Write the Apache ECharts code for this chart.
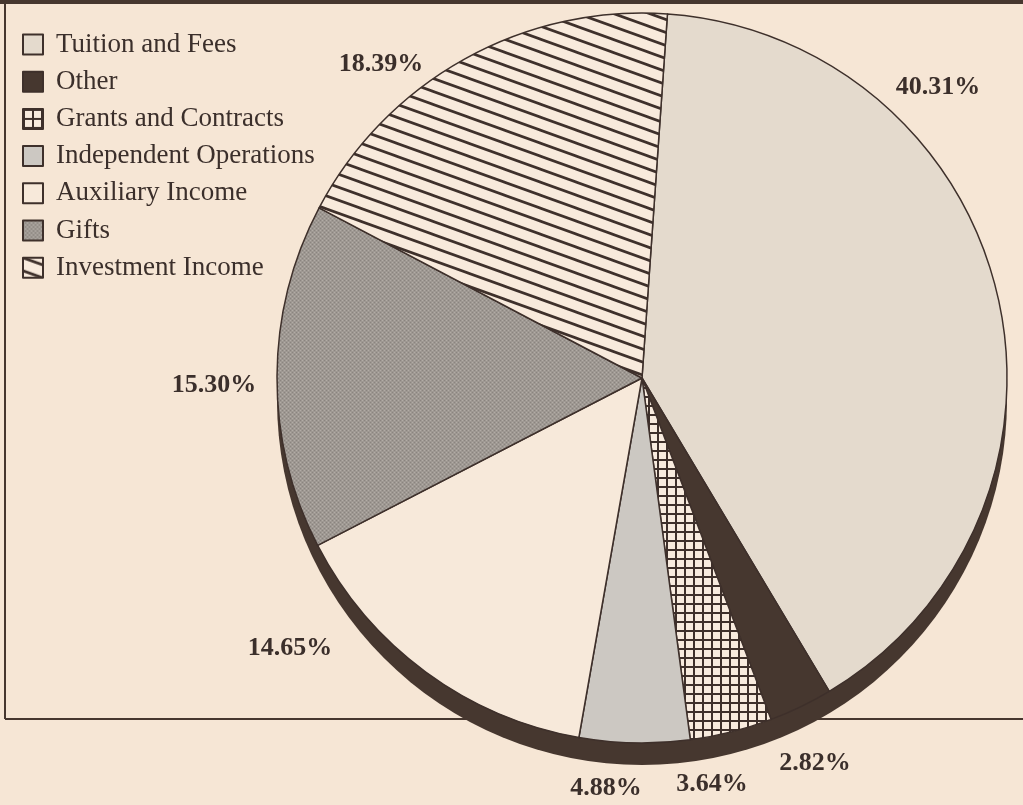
<!DOCTYPE html>
<html>
<head>
<meta charset="UTF-8"/>
<script src="https://cdn.jsdelivr.net/npm/echarts@6/dist/echarts.min.js"></script>
<style>
  html, body { margin: 0; padding: 0; background: #f6e6d5; }
  #c { width: 1023px; height: 805px; }
</style>
</head>
<body>
<div id="c"></div>
<script>
// data (percent of revenue)
const categories = ["Tuition and Fees", "Other", "Grants and Contracts",
  "Independent Operations", "Auxiliary Income", "Gifts", "Investment Income"];
const shares = [40.31, 2.82, 3.64, 4.88, 14.65, 15.30, 18.39];

const PAPER = "#f6e6d5";
const INK = "#46372f";

// small canvas tiles used as fills
function tile(w, h, draw) {
  const cv = document.createElement("canvas");
  cv.width = w; cv.height = h;
  draw(cv.getContext("2d"), w, h);
  return { image: cv, repeat: "repeat" };
}

const gridFill = tile(9, 9, (g, w, h) => {
  g.fillStyle = "#f8ebde"; g.fillRect(0, 0, w, h);
  g.fillStyle = "#3e302b";
  g.fillRect(0, 0, w, 2);
  g.fillRect(0, 0, 2, h);
});

const hatchFill = tile(36, 13, (g, w, h) => {
  g.fillStyle = "#f8eadc"; g.fillRect(0, 0, w, h);
  g.strokeStyle = "#3e302b"; g.lineWidth = 2.7;
  for (let k = -2; k <= 2; k++) {
    g.beginPath();
    g.moveTo(-w, -h + k * h);
    g.lineTo(2 * w, 2 * h + k * h);
    g.stroke();
  }
});

const stippleFill = tile(4, 4, (g) => {
  g.fillStyle = "#9e9892"; g.fillRect(0, 0, 4, 4);
  g.fillStyle = "#8a847f"; g.fillRect(0, 0, 1, 1); g.fillRect(2, 2, 1, 1);
  g.fillStyle = "#b2aca6"; g.fillRect(2, 0, 1, 1); g.fillRect(0, 2, 1, 1);
});

const fills = ["#e4dacd", INK, gridFill, "#ccc8c2", "#f7e9da", stippleFill, hatchFill];

const total = shares.reduce((a, b) => a + b, 0);

// where the printed chart puts each percentage (label centres)
const labelSpots = [[938, 87], [815, 763], [712, 784], [606, 788], [290, 648], [214, 385], [381, 64]];

const chart = echarts.init(document.getElementById("c"), null, { renderer: "canvas" });

chart.setOption({
  backgroundColor: PAPER,
  animation: false,
  graphic: [
    { type: "rect", z: 0, shape: { x: 0, y: 0, width: 1023, height: 4 }, style: { fill: INK } },
    { type: "line", z: 0, shape: { x1: 5, y1: 0, x2: 5, y2: 719 }, style: { stroke: INK, lineWidth: 2 } },
    { type: "line", z: 0, shape: { x1: 5, y1: 719, x2: 1023, y2: 719 }, style: { stroke: INK, lineWidth: 2 } }
  ],
  legend: {
    orient: "vertical",
    left: 17,
    top: 26,
    itemWidth: 20,
    itemHeight: 20,
    itemGap: 10.2,
    icon: "rect",
    selectedMode: false,
    data: categories,
    textStyle: { fontFamily: "Liberation Serif", fontSize: 27, color: "#3b2f2b", padding: [0, 0, 0, 8] }
  },
  series: [
    {
      // the dark rim showing the pie's depth
      type: "pie",
      silent: true,
      z: 1,
      center: [642, 400],
      radius: 365,
      label: { show: false },
      labelLine: { show: false },
      itemStyle: { color: INK },
      data: [{ name: "depth", value: total }]
    },
    {
      type: "pie",
      z: 2,
      center: [642, 378],
      radius: 365,
      startAngle: 86,
      clockwise: true,
      avoidLabelOverlap: false,
      itemStyle: { borderColor: "#3e302b", borderWidth: 1.5 },
      label: {
        show: true,
        position: "outside",
        formatter: "{c}%",
        fontFamily: "Liberation Serif",
        fontWeight: "bold",
        fontSize: 26,
        color: "#3b2f2b"
      },
      labelLine: { show: false, length: 14, length2: 0 },
      labelLayout: (p) => ({
        x: labelSpots[p.dataIndex][0],
        y: labelSpots[p.dataIndex][1],
        align: "center",
        verticalAlign: "middle"
      }),
      data: categories.map((name, i) => ({
        name,
        value: shares[i].toFixed(2),
        itemStyle: { color: fills[i] }
      }))
    }
  ]
});
</script>
</body>
</html>
